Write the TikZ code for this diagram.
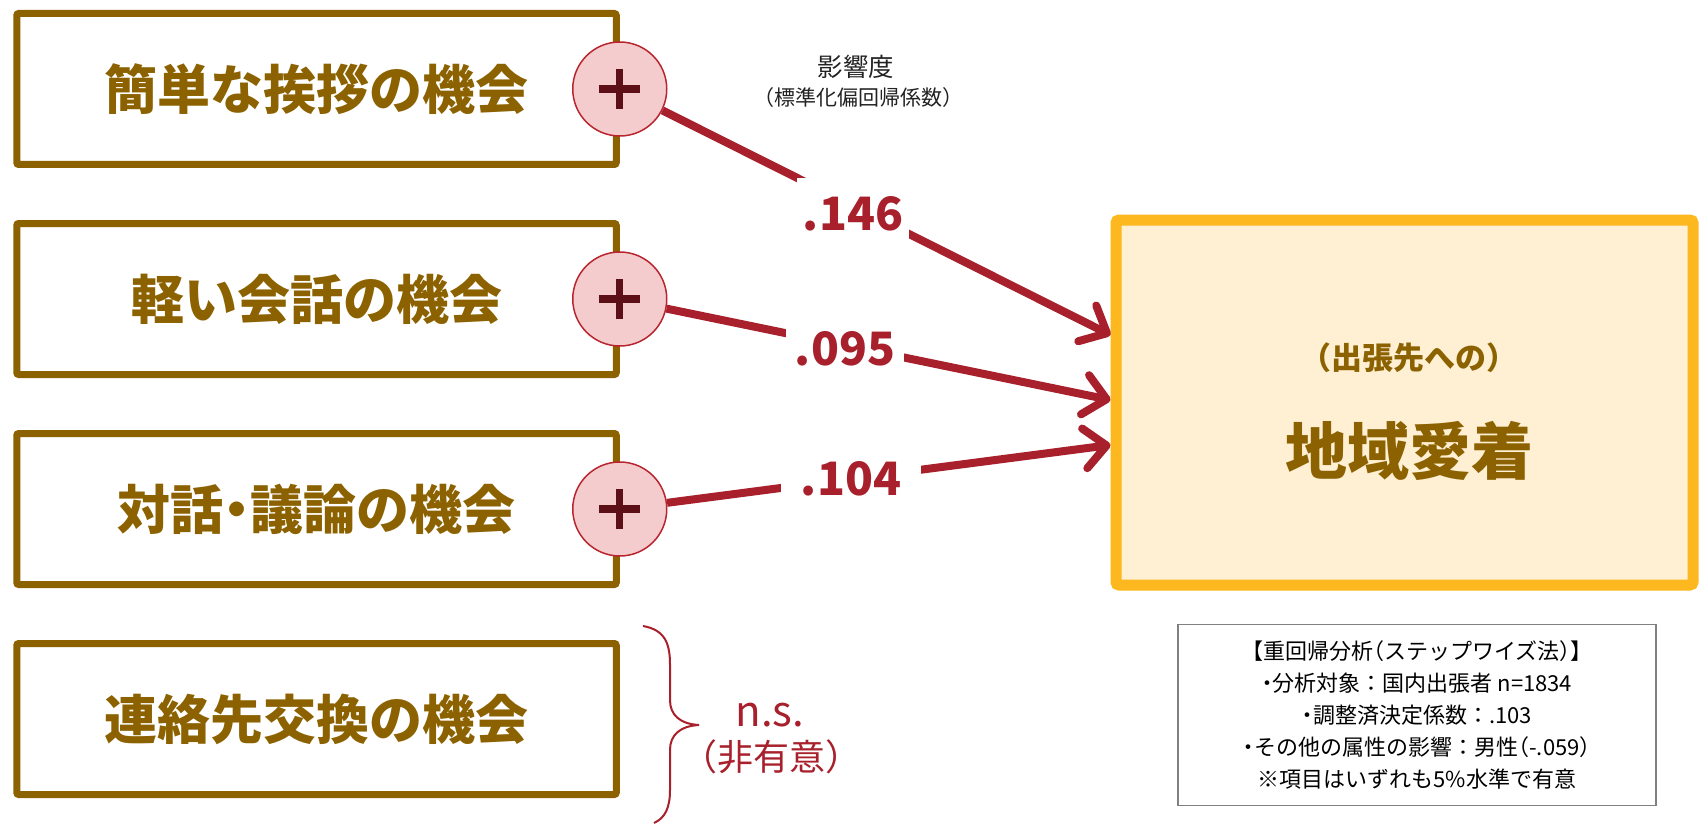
\documentclass[tikz,border=0pt]{standalone}
\usepackage{fontspec}
\setmainfont{Noto Sans CJK JP}
\usetikzlibrary{arrows.meta,calc}
\definecolor{brn}{HTML}{8C6200}
\definecolor{arrred}{HTML}{A8202B}
\definecolor{pinkf}{HTML}{F4CCCD}
\definecolor{crc}{HTML}{B8252F}
\definecolor{plusc}{HTML}{5C0F16}
\definecolor{orng}{HTML}{FDB71F}
\definecolor{cream}{HTML}{FFF0D3}
\definecolor{notegray}{HTML}{808080}
\definecolor{txtgray}{HTML}{222222}
\newcommand\myLP{\makebox[0.5em][r]{（}}
\newcommand\myRP{\makebox[0.5em][l]{）}}
\newcommand\myDot{\makebox[0.5em]{・}}
\newcommand\myFS[2]{\fontsize{#1}{#2}\selectfont}
\begin{document}
\begin{tikzpicture}[x=0.5pt,y=-0.5pt,
  srcbox/.style={draw=brn, line width=3.5pt, rounded corners=1pt, minimum width=299.75pt, minimum height=75.5pt, inner sep=0pt, text=brn, font=\myFS{26.5pt}{30pt}\bfseries},
  plusnode/.style={circle, draw=crc, line width=0.75pt, fill=pinkf, minimum size=47pt, inner sep=0pt,
    path picture={
      \draw[plusc, line width=3.6pt] ([xshift=-10.25pt]path picture bounding box.center) -- ([xshift=10.25pt]path picture bounding box.center);
      \draw[plusc, line width=3.6pt] ([yshift=-10pt]path picture bounding box.center) -- ([yshift=10pt]path picture bounding box.center);}},
  conn/.style={draw=arrred, line width=4pt, -{Straight Barb[length=11pt, width=20pt, round]}},
  coef/.style={fill=white, text=arrred, inner sep=0pt, minimum height=36pt, font=\myFS{23pt}{26pt}\bfseries},
  tgt/.style={draw=orng, fill=cream, line width=5.5pt, rounded corners=1.5pt, minimum width=288.5pt, minimum height=182.5pt, inner sep=0pt},
  tgttext/.style={text=brn, inner sep=0pt},
  notebox/.style={draw=notegray, line width=0.75pt, minimum width=239pt, minimum height=90.5pt, align=center, font=\myFS{11pt}{16pt}, text=black, inner sep=0pt},
  smalltext/.style={text=txtgray, inner sep=0pt},
  bracepath/.style={draw=arrred, line width=1pt},
  nstext/.style={text=arrred, inner sep=0pt}
]
\useasboundingbox (0,0) rectangle (1703,824);

% source boxes
\node[srcbox] (b1) at (316.5,89) {簡単な挨拶の機会};
\node[srcbox] (b2) at (316.5,299) {軽い会話の機会};
\node[srcbox] (b3) at (316.5,509) {対話{\myDot}議論の機会};
\node[srcbox] (b4) at (316.5,719) {連絡先交換の機会};

% target
\node[tgt] (t) at (1404.5,402.5) {};
\node[tgttext, font=\myFS{15.5pt}{18pt}\bfseries] (t1) at (1409,358) {\myLP 出張先への\myRP};
\node[tgttext, font=\myFS{31pt}{36pt}\bfseries] (t2) at (1409,451) {地域愛着};

% plus circles
\node[plusnode] (c1) at (b1.east) {};
\node[plusnode] (c2) at (b2.east) {};
\node[plusnode] (c3) at (b3.east) {};

% arrow ends
\coordinate (e1) at (t.west |- 0,335);
\coordinate (e2) at (t.west |- 0,400);
\coordinate (e3) at (t.west |- 0,445);

\draw[conn] (c1) -- (e1);
\draw[conn] (c2) -- (e2);
\draw[conn] (c3) -- (e3);

% coefficient labels
\node[coef, minimum width=56pt] (l1) at (853,214) {.146};
\node[coef, minimum width=59pt] (l2) at (845,349) {.095};
\node[coef, minimum width=70pt] (l3) at (851,479) {.104};

% heading of coefficients
\node[smalltext, font=\myFS{12.7pt}{15pt}] (h1) at (856,67) {影響度};
\node[smalltext, font=\myFS{10.5pt}{13pt}] (h2) at (858,98) {\myLP 標準化偏回帰係数\myRP};

% brace and n.s.
\draw[bracepath] (643,626) .. controls (666,630) and (670,645) .. (670,665) -- (670,700)
  .. controls (670,715) and (680,724) .. (699,725)
  .. controls (680,726) and (670,735) .. (670,750) -- (670,790)
  .. controls (670,808) and (665,818) .. (654,823);
\node[nstext, font=\myFS{21pt}{24pt}] (ns) at (770,715) {n.s.};
\node[nstext, font=\myFS{18pt}{21pt}] (ns2) at (771,757) {\myLP 非有意\myRP};

% note
\node[notebox] (note) at (1417,715) {【重回帰分析\myLP ステップワイズ法\myRP】\\
{\myDot}分析対象：国内出張者 n=1834\\
{\myDot}調整済決定係数：.103\\
{\myDot}その他の属性の影響：男性\myLP -.059\myRP\\
※項目はいずれも5\%水準で有意};
\end{tikzpicture}
\end{document}
